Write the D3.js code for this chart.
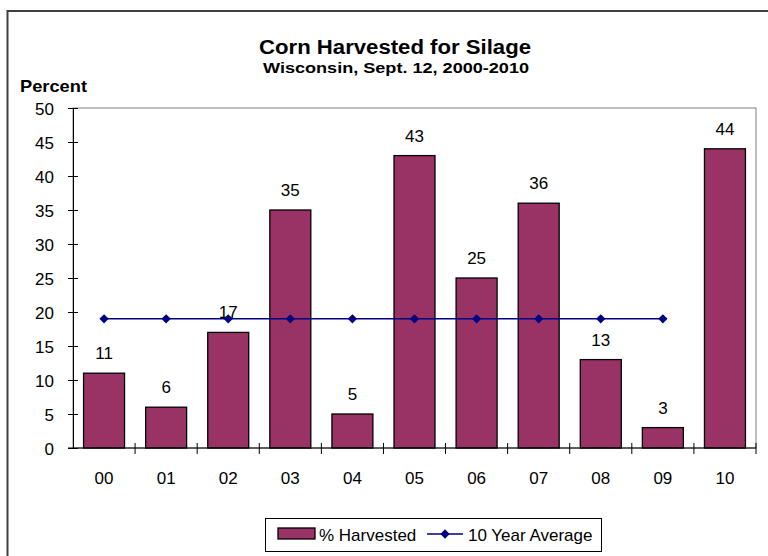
<!DOCTYPE html>
<html>
<head>
<meta charset="utf-8">
<title>Corn Harvested for Silage</title>
<script src="https://cdn.jsdelivr.net/npm/d3@7"></script>
<style>
  body { margin: 0; background: #fff; }
  svg { display: block; font-family: "Liberation Sans", Arial, sans-serif; }
</style>
</head>
<body>
<svg id="chart"></svg>
<script>
// data
var years = ["00", "01", "02", "03", "04", "05", "06", "07", "08", "09", "10"];
var harvested = [11, 6, 17, 35, 5, 43, 25, 36, 13, 3, 44];
var avgYears = ["00", "01", "02", "03", "04", "05", "06", "07", "08", "09"];
var avgValues = [19, 19, 19, 19, 19, 19, 19, 19, 19, 19];
var yTicks = [0, 5, 10, 15, 20, 25, 30, 35, 40, 45, 50];

var width = 768, height = 556,
    margin = {top: 108, left: 73, right: 12, bottom: 108};

var svg = d3.select("#chart").attr("width", width).attr("height", height);

// outer frame
svg.append("rect")
  .attr("x", 7.5).attr("y", 11).attr("width", 780).attr("height", 600)
  .attr("fill", "none").attr("stroke", "#404040").attr("stroke-width", 2);

var x = d3.scaleBand().domain(years).range([margin.left, width - margin.right])
  .paddingInner(0.34).paddingOuter(0.17);
var y = d3.scaleLinear().domain([0, 50]).range([height - margin.bottom, margin.top]);

// plot area box (top/right grey)
svg.append("rect")
  .attr("x", margin.left).attr("y", y(50))
  .attr("width", width - margin.right - margin.left).attr("height", y(0) - y(50))
  .attr("fill", "none").attr("stroke", "#808080").attr("stroke-width", 1);

// titles (the original font is a little wider than Arial, so stretch it)
svg.append("text").attr("x", 395).attr("y", 54).attr("text-anchor", "middle")
  .attr("textLength", 272).attr("lengthAdjust", "spacingAndGlyphs")
  .style("font-weight", "bold").style("font-size", "20px").text("Corn Harvested for Silage");
svg.append("text").attr("x", 396).attr("y", 73).attr("text-anchor", "middle")
  .attr("textLength", 266).attr("lengthAdjust", "spacingAndGlyphs")
  .style("font-weight", "bold").style("font-size", "15px").text("Wisconsin, Sept. 12, 2000-2010");
svg.append("text").attr("x", 20).attr("y", 92)
  .attr("textLength", 67).attr("lengthAdjust", "spacingAndGlyphs")
  .style("font-weight", "bold").style("font-size", "17px").text("Percent");

// bars
svg.selectAll("rect.bar").data(years).enter().append("rect")
  .attr("class", "bar")
  .attr("x", function(d) { return x(d); })
  .attr("y", function(d, i) { return y(harvested[i]); })
  .attr("width", x.bandwidth())
  .attr("height", function(d, i) { return y(0) - y(harvested[i]); })
  .attr("fill", "#993366").attr("stroke", "#000").attr("stroke-width", 1.3);

// bar labels
svg.selectAll("text.lbl").data(years).enter().append("text")
  .attr("class", "lbl")
  .attr("x", function(d) { return x(d) + x.bandwidth() / 2; })
  .attr("y", function(d, i) { return y(harvested[i]) - 14; })
  .attr("text-anchor", "middle").style("font-size", "17px")
  .text(function(d, i) { return harvested[i]; });

// y axis
var axisY = d3.axisLeft(y).tickValues(yTicks).tickSizeInner(5).tickSizeOuter(0).tickPadding(14);
var gy = svg.append("g").attr("transform", "translate(" + margin.left + ",0)").call(axisY);
gy.selectAll(".tick line").attr("x2", 5).attr("x1", -5).attr("stroke", "#000");
gy.select(".domain").attr("stroke", "#000");
gy.selectAll("text").style("font-size", "17px").attr("font-family", null).attr("dy", "0.36em");

// x axis: ticks sit between categories
var gx = svg.append("g").attr("transform", "translate(0," + y(0) + ")");
gx.append("line").attr("x1", margin.left - 5).attr("x2", width - margin.right)
  .attr("stroke", "#000");
var step = x.step();
var edges = years.map(function(d) { return x(d) - x.paddingOuter() * step + step; });
gx.selectAll("line.tk").data(edges).enter().append("line")
  .attr("class", "tk")
  .attr("x1", function(d) { return d; }).attr("x2", function(d) { return d; })
  .attr("y1", -5).attr("y2", 6).attr("stroke", "#000");
gx.selectAll("text").data(years).enter().append("text")
  .attr("x", function(d) { return x(d) + x.bandwidth() / 2; })
  .attr("y", 36).attr("text-anchor", "middle").style("font-size", "17px")
  .text(function(d) { return d; });

// average line
var line = d3.line()
  .x(function(d) { return x(d) + x.bandwidth() / 2; })
  .y(function(d, i) { return y(avgValues[i]); });
svg.append("path").datum(avgYears).attr("d", line)
  .attr("fill", "none").attr("stroke", "#000080").attr("stroke-width", 1.5);
var diamond = d3.symbol().type(d3.symbolDiamond2).size(55);
svg.selectAll("path.pt").data(avgYears).enter().append("path")
  .attr("class", "pt")
  .attr("d", diamond)
  .attr("transform", function(d, i) {
    return "translate(" + (x(d) + x.bandwidth() / 2) + "," + y(avgValues[i]) + ")";
  })
  .attr("fill", "#000080");

// legend
var lg = svg.append("g");
lg.append("rect").attr("x", 265.5).attr("y", 518.5).attr("width", 336).attr("height", 33)
  .attr("fill", "#fff").attr("stroke", "#000").attr("stroke-width", 1);
lg.append("rect").attr("x", 278).attr("y", 528).attr("width", 37).attr("height", 11)
  .attr("fill", "#993366").attr("stroke", "#000").attr("stroke-width", 1.3);
lg.append("text").attr("x", 319).attr("y", 541).style("font-size", "17px").text("% Harvested");
lg.append("line").attr("x1", 427).attr("x2", 463).attr("y1", 534).attr("y2", 534)
  .attr("stroke", "#000080").attr("stroke-width", 1.5);
lg.append("path").attr("d", diamond).attr("transform", "translate(445,534)").attr("fill", "#000080");
lg.append("text").attr("x", 468).attr("y", 541).style("font-size", "17px").text("10 Year Average");
</script>
</body>
</html>
